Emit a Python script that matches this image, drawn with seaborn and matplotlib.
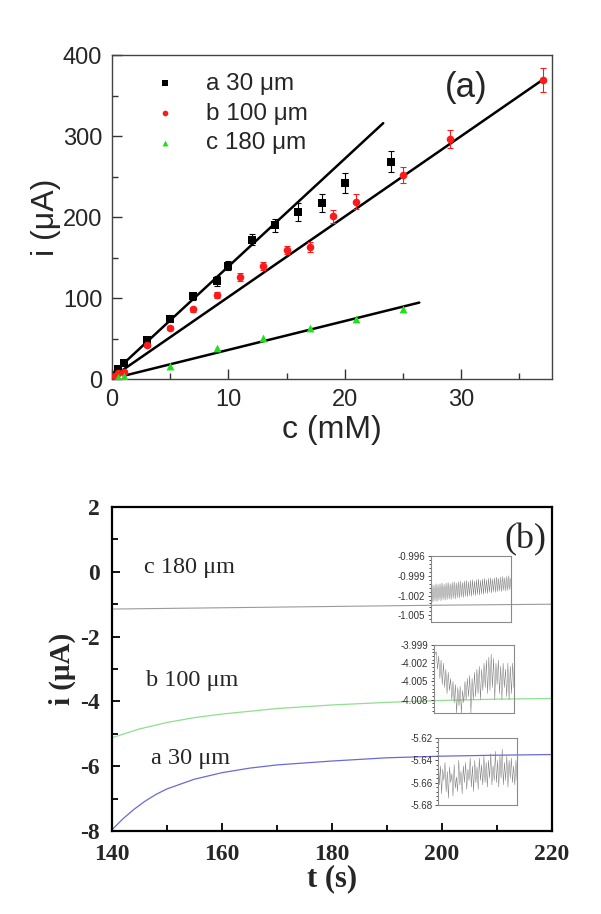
import numpy as np
import matplotlib
matplotlib.use("Agg")
import matplotlib.pyplot as plt
import seaborn as sns
from matplotlib.ticker import MultipleLocator, FormatStrFormatter

# ---- panel (a): calibration data, i vs c ----
conc_a = [0.5, 1, 3, 5, 7, 9, 10, 12, 14, 16, 18, 20, 24]
curr_a = [12, 20, 48, 74, 102, 121, 140, 172, 190, 206, 217, 242, 268]
err_a = [3, 3, 3, 3, 4, 6, 6, 7, 8, 11, 11, 12, 13]

conc_b = [0.25, 0.5, 1, 3, 5, 7, 9, 11, 13, 15, 17, 19, 21, 25, 29, 37]
curr_b = [4, 7, 9, 42, 63, 86, 104, 126, 140, 159, 163, 201, 219, 252, 296, 369]
err_b = [2, 2, 2, 3, 3, 3, 4, 5, 5, 5, 6, 8, 9, 10, 11, 15]

conc_c = [0.5, 1, 5, 9, 13, 17, 21, 25]
curr_c = [2, 4, 16, 38, 51, 63, 74, 86]

# linear fits: intercept, slope, x range
fit_intercept = [6.0, 2.0, 0.4]
fit_slope = [13.3, 9.93, 3.56]
fit_xstart = [0.0, 0.2, 1.0]
fit_xend = [23.3, 37.0, 26.4]

series_labels = ["a 30 μm", "b 100 μm", "c 180 μm"]

# ---- panel (b): steady-state current vs time ----
t_a = [140, 142, 144, 146, 148, 150, 155, 160, 165, 170, 180, 190, 200, 210, 220]
i_a = [-7.96, -7.62, -7.33, -7.08, -6.87, -6.70, -6.40, -6.20, -6.06, -5.96,
       -5.84, -5.74, -5.69, -5.66, -5.64]
t_b = [140, 145, 150, 155, 160, 170, 180, 190, 200, 210, 220]
i_b = [-5.12, -4.85, -4.65, -4.50, -4.39, -4.22, -4.11, -4.03, -3.97, -3.93, -3.91]
t_c = [140, 160, 180, 200, 220]
i_c = [-1.15, -1.11, -1.07, -1.03, -1.00]

# inset traces (noise at steady state)
ins_c = [
    -1.0029, -1.0003, -1.0030, -1.0004, -1.0028, -1.0002, -1.0029, -1.0003,
    -1.0027, -1.0002, -1.0028, -1.0001, -1.0026, -1.0003, -1.0027, -1.0001,
    -1.0026, -1.0000, -1.0025, -1.0002, -1.0026, -1.0000, -1.0024, -0.9999,
    -1.0025, -1.0001, -1.0023, -0.9999, -1.0024, -0.9998, -1.0022, -1.0000,
    -1.0023, -0.9998, -1.0021, -0.9997, -1.0022, -0.9999, -1.0020, -0.9997,
    -1.0021, -0.9996, -1.0019, -0.9998, -1.0020, -0.9996, -1.0018, -0.9995,
    -1.0019, -0.9997, -1.0017, -0.9995, -1.0018, -0.9994, -1.0016, -0.9996,
    -1.0017, -0.9994, -1.0015, -0.9993, -1.0016, -0.9995, -1.0014, -0.9993,
    -1.0015, -0.9992, -1.0014, -0.9994, -1.0013, -0.9992, -1.0014, -0.9991,
    -1.0012, -0.9993, -1.0013, -0.9991, -1.0012, -0.9990, -1.0011, -0.9994,
]
ins_b = [
    -3.9998, -4.0005, -4.0001, -4.0030, -4.0008, -4.0045, -4.0015, -4.0055,
    -4.0020, -4.0060, -4.0030, -4.0070, -4.0035, -4.0065, -4.0045, -4.0080,
    -4.0050, -4.0085, -4.0055, -4.0102, -4.0060, -4.0090, -4.0058, -4.0102,
    -4.0065, -4.0085, -4.0050, -4.0080, -4.0045, -4.0075, -4.0040, -4.0102,
    -4.0045, -4.0080, -4.0035, -4.0075, -4.0030, -4.0070, -4.0025, -4.0080,
    -4.0030, -4.0065, -4.0020, -4.0060, -4.0015, -4.0070, -4.0010, -4.0065,
    -4.0005, -4.0060, -4.0012, -4.0080, -4.0020, -4.0055, -4.0015, -4.0070,
    -4.0025, -4.0080, -4.0020, -4.0060, -4.0030, -4.0075, -4.0020, -4.0080,
    -4.0025, -4.0070, -4.0020, -4.0060,
]
ins_a = [
    -5.640, -5.662, -5.645, -5.670, -5.648, -5.658, -5.642, -5.668,
    -5.650, -5.674, -5.646, -5.660, -5.652, -5.672, -5.644, -5.665,
    -5.655, -5.668, -5.640, -5.662, -5.650, -5.670, -5.645, -5.660,
    -5.642, -5.666, -5.648, -5.658, -5.638, -5.664, -5.645, -5.668,
    -5.640, -5.660, -5.646, -5.666, -5.638, -5.658, -5.644, -5.662,
    -5.636, -5.660, -5.642, -5.664, -5.640, -5.656, -5.634, -5.662,
    -5.645, -5.658, -5.632, -5.660, -5.640, -5.664, -5.636, -5.656,
    -5.630, -5.662, -5.642, -5.658, -5.636, -5.664, -5.640, -5.656,
    -5.638, -5.660, -5.645, -5.662, -5.640, -5.658,
]

RED = "#ff1a1a"
GREEN = "#1fe01f"

sns.set_style("ticks")
plt.rcParams["font.family"] = ["Liberation Sans", "DejaVu Sans"]
plt.rcParams["axes.unicode_minus"] = False

fig = plt.figure(figsize=(6.01, 9.14), dpi=100)
ax_a = fig.add_axes([0.1864, 0.5853, 0.732, 0.3545])
ax_b = fig.add_axes([0.1864, 0.0908, 0.732, 0.3545])

# ---------------- panel (a) ----------------
for k in range(3):
    xs = np.array([fit_xstart[k], fit_xend[k]])
    sns.lineplot(x=xs, y=fit_intercept[k] + fit_slope[k] * xs, ax=ax_a,
                 color="black", linewidth=1.8, zorder=2)

ax_a.errorbar(conc_a, curr_a, yerr=err_a, fmt="none", ecolor="black",
              elinewidth=0.8, capsize=2.5, capthick=0.8, zorder=3)
ax_a.errorbar(conc_b, curr_b, yerr=err_b, fmt="none", ecolor=RED,
              elinewidth=0.8, capsize=2.5, capthick=0.8, zorder=3)
sns.scatterplot(x=conc_a, y=curr_a, ax=ax_a, marker="s", s=26, color="black",
                edgecolor="black", linewidth=0, label=series_labels[0], zorder=4)
sns.scatterplot(x=conc_b, y=curr_b, ax=ax_a, marker="o", s=30, color=RED,
                edgecolor=RED, linewidth=0, label=series_labels[1], zorder=4)
sns.scatterplot(x=conc_c, y=curr_c, ax=ax_a, marker="^", s=32, color=GREEN,
                edgecolor=GREEN, linewidth=0, label=series_labels[2], zorder=4)

ax_a.set_xlim(0, 37.8)
ax_a.set_ylim(0, 400)
ax_a.xaxis.set_major_locator(MultipleLocator(10))
ax_a.xaxis.set_minor_locator(MultipleLocator(5))
ax_a.yaxis.set_major_locator(MultipleLocator(100))
ax_a.yaxis.set_minor_locator(MultipleLocator(50))
ax_a.tick_params(which="both", direction="in", color="#333333", width=1,
                 labelsize=17, pad=7)
ax_a.tick_params(which="major", length=7)
ax_a.tick_params(which="minor", length=4)
for sp in ax_a.spines.values():
    sp.set_color("#444444")
    sp.set_linewidth(1.0)

ax_a.set_xlabel("c (mM)", fontsize=23, va="center")
ax_a.xaxis.set_label_coords(0.5, -(430 - 379) / 324)
ax_a.set_ylabel("i (μA)", fontsize=23, va="center")
ax_a.yaxis.set_label_coords(-(112 - 45.5) / 440, 0.5)

ax_a.text(0.805, 0.901, "(a)", transform=ax_a.transAxes, fontsize=25,
          ha="center", va="center")

ax_a.legend(loc="upper left", bbox_to_anchor=(0.092, 0.945), frameon=False,
            fontsize=17.5, handlelength=1.0, handletextpad=1.2, labelspacing=0.32,
            borderaxespad=0, borderpad=0, markerscale=0.75)

# ---------------- panel (b) ----------------
serif = ["Liberation Serif", "DejaVu Serif"]

sns.lineplot(x=t_c, y=i_c, ax=ax_b, color="#9a9a9a", linewidth=0.8)
sns.lineplot(x=t_b, y=i_b, ax=ax_b, color="#8fdf8f", linewidth=0.9)
sns.lineplot(x=t_a, y=i_a, ax=ax_b, color="#6a6ad8", linewidth=0.9)

ax_b.set_xlim(140, 220)
ax_b.set_ylim(-8, 2)
ax_b.xaxis.set_major_locator(MultipleLocator(20))
ax_b.xaxis.set_minor_locator(MultipleLocator(10))
ax_b.yaxis.set_major_locator(MultipleLocator(2))
ax_b.yaxis.set_minor_locator(MultipleLocator(1))
ax_b.tick_params(which="both", direction="in", color="black", width=1.3,
                 labelsize=17, pad=9)
ax_b.tick_params(which="major", length=6)
ax_b.tick_params(which="minor", length=4)
for lab in ax_b.get_xticklabels() + ax_b.get_yticklabels():
    lab.set_family(serif)
    lab.set_fontweight("bold")
for sp in ax_b.spines.values():
    sp.set_color("black")
    sp.set_linewidth(1.6)

ax_b.set_xlabel("t (s)", fontsize=22, fontweight="bold", family=serif, va="center")
ax_b.xaxis.set_label_coords(0.5, -(879 - 831) / 324)
ax_b.set_ylabel("i (μA)", fontsize=21, fontweight="bold", family=serif, va="center")
ax_b.yaxis.set_label_coords(-(112 - 62) / 440, 0.5)

ax_b.text(0.0727, 0.812, "c 180 μm", transform=ax_b.transAxes, fontsize=17.5,
          family=serif, ha="left", va="center")
ax_b.text(0.078, 0.463, "b 100 μm", transform=ax_b.transAxes, fontsize=17.5,
          family=serif, ha="left", va="center")
ax_b.text(0.0886, 0.225, "a 30 μm", transform=ax_b.transAxes, fontsize=17.5,
          family=serif, ha="left", va="center")
ax_b.text(0.939, 0.898, "(b)", transform=ax_b.transAxes, fontsize=26,
          family=serif, ha="center", va="center")

# ---------------- insets ----------------
insets = [
    (ins_c, [0.717, 0.3195, 0.133, 0.0722], (-1.006, -0.996), 0.003, 0.0006, "%.3f"),
    (ins_b, [0.722, 0.2199, 0.133, 0.0744], (-4.0102, -3.999), 0.003, 0.0006, "%.3f"),
    (ins_a, [0.729, 0.1193, 0.1314, 0.0733], (-5.68, -5.62), 0.02, 0.004, "%.2f"),
]
for trace, rect, ylim, major, minor, fmt in insets:
    ax_in = fig.add_axes(rect, facecolor="none")
    sns.lineplot(x=np.arange(len(trace)), y=trace, ax=ax_in,
                 color="#7a7a7a", linewidth=0.35)
    ax_in.set_xlim(0, len(trace) - 1)
    ax_in.set_ylim(*ylim)
    ax_in.set_xlabel("")
    ax_in.set_ylabel("")
    ax_in.set_xticks([])
    ax_in.yaxis.set_major_locator(MultipleLocator(major))
    ax_in.yaxis.set_minor_locator(MultipleLocator(minor))
    ax_in.yaxis.set_major_formatter(FormatStrFormatter(fmt))
    ax_in.tick_params(axis="y", which="both", direction="out", color="#333333",
                      width=0.6, labelsize=7, labelcolor="#333333", pad=1.5)
    ax_in.tick_params(axis="y", which="major", length=2.5)
    ax_in.tick_params(axis="y", which="minor", length=1.5)
    for sp in ax_in.spines.values():
        sp.set_color("#8a8a8a")
        sp.set_linewidth(0.8)

fig.savefig("out.png", dpi=100)
